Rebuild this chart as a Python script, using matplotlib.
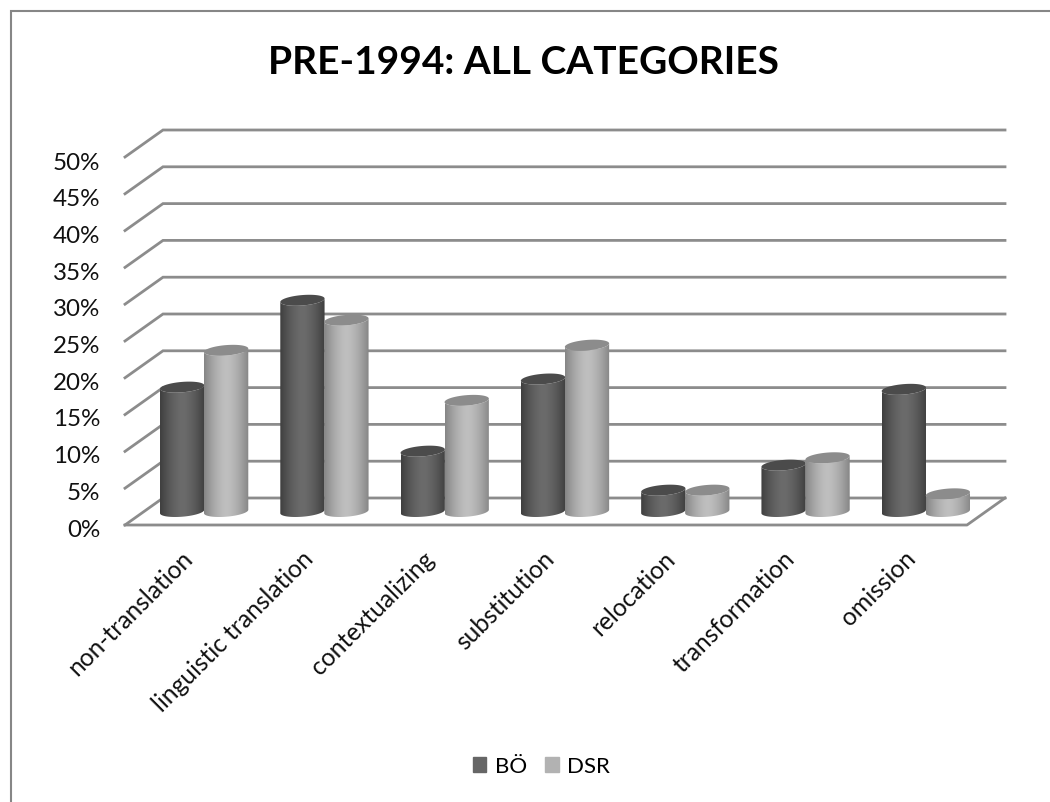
import numpy as np
import matplotlib
matplotlib.use('Agg')
import matplotlib.pyplot as plt
from matplotlib.lines import Line2D
from matplotlib.patches import Patch, Polygon
from matplotlib.transforms import ScaledTranslation

categories = ['non-translation', 'linguistic translation', 'contextualizing', 'substitution',
              'relocation', 'transformation', 'omission']
bo_values = [16.9, 28.7, 8.2, 18.0, 2.9, 6.3, 16.6]
dsr_values = [21.9, 26.0, 15.1, 22.6, 2.9, 7.3, 2.4]
y_ticks = [0, 5, 10, 15, 20, 25, 30, 35, 40, 45, 50]

W, H = 1050, 803
plt.rcParams['font.family'] = ['Lato', 'DejaVu Sans']

fig = plt.figure(figsize=(W / 100, H / 100), dpi=100)
fig.patch.set_facecolor('white')


def px_axes(x0, x1, y_bottom, y_top):
    return fig.add_axes([x0 / W, 1 - y_bottom / H, (x1 - x0) / W, (y_bottom - y_top) / H])


# mid-depth plane holds the cylinders, front plane carries the tick labels
ax = px_axes(144, 986, 512.5, 144.5)
ax.axis('off')

front = px_axes(125, 968, 526, 159)
front.set_xlim(0, 7)
front.set_ylim(0, 50)
front.patch.set_alpha(0)
for s in front.spines.values():
    s.set_visible(False)
front.set_yticks(y_ticks)
front.set_yticklabels(['%d%%' % v for v in y_ticks], fontsize=17.4, color='#111111')
front.set_xticks(np.arange(7) + 0.5)
front.set_xticklabels(categories, fontsize=17.7, color='#111111', rotation=45, ha='right',
                      rotation_mode='anchor')
front.tick_params(length=0, axis='y', pad=18)
front.tick_params(length=0, axis='x', pad=15)
for lab in front.get_yticklabels():
    lab.set_transform(lab.get_transform() + ScaledTranslation(0, -1.5 / 72, fig.dpi_scale_trans))
for lab in front.get_xticklabels():
    lab.set_transform(lab.get_transform() + ScaledTranslation(-3 / 72, 0, fig.dpi_scale_trans))

# depth of the box, half of it either side of the mid plane
px_x = 7 / 842
px_y = 50 / 368
dx = 19 * px_x
dy = 13.5 * px_y
grid = '#8c8c8c'
for v in y_ticks:
    ax.plot([0 - dx, 0 + dx, 7 + dx], [v - dy, v + dy, v + dy], color=grid, lw=2, clip_on=False,
            solid_joinstyle='miter', zorder=1)
ax.plot([0 - dx, 7 - dx, 7 + dx], [0 - dy, 0 - dy, 0 + dy], color=grid, lw=2, clip_on=False, zorder=1)

r_x = 21 * px_x
a_x = 7 * px_x
a_y = 5.5 * px_y
bar_w = 44 * px_x
t = np.linspace(0, 2 * np.pi, 121)
t_edge = np.arctan2(a_x, r_x)


def ellipse(cx, cy, ts):
    return np.column_stack([cx + r_x * np.cos(ts) + a_x * np.sin(ts), cy + a_y * np.sin(ts)])


def cylinder(cx, value, edge, mid, top, z):
    half = np.hypot(r_x, a_x)
    lower = np.linspace(t_edge + np.pi, t_edge + 2 * np.pi, 60)
    pts = np.vstack([ellipse(cx, 0, lower), ellipse(cx, value, lower[::-1])])
    clip = Polygon(pts, closed=True, transform=ax.transData, facecolor='none', edgecolor='none')
    ax.add_patch(clip)
    clip.set_clip_on(False)
    s = np.linspace(-1, 1, 128)
    shade = 1 - np.abs(s) ** 1.6
    c0, c1 = np.array(matplotlib.colors.to_rgb(edge)), np.array(matplotlib.colors.to_rgb(mid))
    img = c0 + (c1 - c0) * shade[:, None]
    im = ax.imshow(img[None, :, :], extent=[cx - half, cx + half, -5, value + 5], aspect='auto',
                   interpolation='bilinear', zorder=z)
    im.set_clip_box(fig.bbox)
    im.set_clip_path(clip)
    ax.add_patch(Polygon(ellipse(cx, value, t), closed=True, facecolor=top, edgecolor='none', zorder=z + 0.1))


for i in range(7):
    c = i + 0.5
    cylinder(c - bar_w / 2, bo_values[i], '#3e3e3e', '#6b6b6b', '#4b4b4b', 3 + i)
    cylinder(c + bar_w / 2, dsr_values[i], '#858585', '#bfbfbf', '#8c8c8c', 3.5 + i)
ax.set_xlim(0, 7)
ax.set_ylim(0, 50)

fig.text(523 / W, 1 - 63 / H, 'PRE-1994: ALL CATEGORIES', fontsize=28, fontweight='bold', ha='center',
         va='center', color='black')

fig.legend(handles=[Patch(color='#666666', label='BÖ'), Patch(color='#b2b2b2', label='DSR')],
           loc='center', bbox_to_anchor=(541.5 / W, 1 - 767 / H), ncols=2, frameon=False, fontsize=16,
           handlelength=0.62, handleheight=0.68, handletextpad=0.38, columnspacing=0.82)

# chart frame: only the top and left edges fall inside the image
fig.add_artist(Line2D([10.5 / W, 10.5 / W, 1], [0, 1 - 12 / H, 1 - 12 / H], transform=fig.transFigure,
                      color='#868686', lw=1.5, solid_joinstyle='miter'))

fig.savefig('out.png', dpi=100)
plt.close()
